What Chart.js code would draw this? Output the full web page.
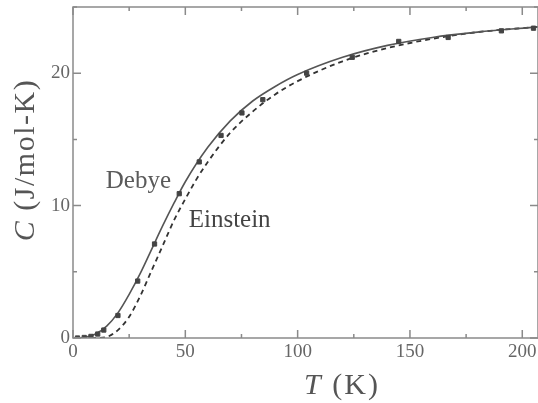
<!DOCTYPE html>
<html><head><meta charset="utf-8">
<script src="https://cdn.jsdelivr.net/npm/chart.js@4/dist/chart.umd.min.js"></script>
<style>html,body{margin:0;padding:0;background:#fff;overflow:hidden}canvas{display:block}</style>
</head><body><canvas id="c" width="538" height="403" style="width:538px;height:403px"></canvas>
<script>
const dataT = [2, 5, 8, 11, 13.7, 20, 28.8, 36.3, 47.3, 56.2, 65.9, 75.2, 84.5, 104, 124.3, 145, 167, 190.7, 205];
const dataC = [0.0, 0.04, 0.12, 0.3, 0.6, 1.7, 4.3, 7.1, 10.9, 13.3, 15.3, 17.0, 18.0, 20.0, 21.2, 22.4, 22.7, 23.2, 23.4];
const debyeT = [0, 5, 10, 15, 20, 25, 30, 35, 40, 45, 50, 60, 70, 80, 90, 100, 120, 140, 160, 180, 207];
const debyeC = [0, 0.04, 0.3, 0.9, 1.9, 3.3, 4.9, 6.7, 8.5, 10.2, 11.8, 14.4, 16.4, 17.9, 19.0, 19.9, 21.2, 22.1, 22.7, 23.1, 23.5];
const einT = [0, 10, 15, 20, 25, 30, 35, 40, 45, 50, 55, 60, 70, 80, 90, 100, 120, 140, 160, 180, 207];
const einC = [0, 0, 0.08, 0.6, 1.6, 3.2, 5.1, 7.0, 8.9, 10.5, 12.0, 13.3, 15.5, 17.1, 18.4, 19.4, 20.9, 21.9, 22.6, 23.1, 23.5];
const xMajor = [0, 50, 100, 150, 200];
const xMinor = [25, 75, 125, 175];
const yMajor = [0, 10, 20];
const yMinor = [5, 15, 25];

const pts = (xs, ys) => xs.map((x, i) => ({x, y: ys[i]}));
const AX = '#8a8a8a';
const SERIF = '"Liberation Serif", serif';
const framePlugin = {
  id: 'frame',
  afterDatasetsDraw(chart) {
    const {ctx, chartArea: a, scales: {x, y}} = chart;
    ctx.save();
    ctx.strokeStyle = AX; ctx.lineWidth = 1.5;
    ctx.strokeRect(a.left, a.top, a.right - a.left, a.bottom - a.top);
    ctx.beginPath();
    const tx = (v, L) => { const p = x.getPixelForValue(v); ctx.moveTo(p, a.bottom); ctx.lineTo(p, a.bottom - L); ctx.moveTo(p, a.top); ctx.lineTo(p, a.top + L); };
    const ty = (v, L) => { const p = y.getPixelForValue(v); ctx.moveTo(a.left, p); ctx.lineTo(a.left + L, p); ctx.moveTo(a.right, p); ctx.lineTo(a.right - L, p); };
    xMajor.forEach(v => tx(v, 8)); xMinor.forEach(v => tx(v, 4));
    yMajor.forEach(v => ty(v, 8)); yMinor.forEach(v => ty(v, 4));
    ctx.stroke();
    // curve labels
    ctx.font = '25px ' + SERIF;
    ctx.textBaseline = 'alphabetic';
    ctx.textAlign = 'left';
    ctx.fillStyle = '#5a5a5a';
    ctx.fillText('Debye', x.getPixelForValue(14.6), y.getPixelForValue(11.3));
    ctx.fillStyle = '#444';
    ctx.fillText('Einstein', x.getPixelForValue(51.5), y.getPixelForValue(8.35));
    // axis titles
    ctx.fillStyle = '#555';
    const drawParts = (parts, cx, cy, sp) => {
      ctx.letterSpacing = sp + 'px';
      let w = 0;
      parts.forEach(p => { ctx.font = p[1]; w += ctx.measureText(p[0]).width; });
      let sx = cx - w / 2;
      parts.forEach(p => { ctx.font = p[1]; ctx.fillText(p[0], sx, cy); sx += ctx.measureText(p[0]).width; });
      ctx.letterSpacing = '0px';
    };
    ctx.textBaseline = 'middle';
    drawParts([['T', 'italic 30px ' + SERIF], [' (K)', '30px ' + SERIF]], 342, 386, 2);
    ctx.save();
    ctx.translate(26, 160);
    ctx.rotate(-Math.PI / 2);
    drawParts([['C', 'italic 30px ' + SERIF], [' (J/mol-K)', '30px ' + SERIF]], 0, 0, 1.5);
    ctx.restore();
    ctx.restore();
  }
};

new Chart(document.getElementById('c'), {
  type: 'scatter',
  data: {
    datasets: [
      {label: 'data', data: pts(dataT, dataC), pointStyle: 'rect', pointRadius: 3, pointHoverRadius: 3, backgroundColor: '#444', borderColor: '#444', showLine: false, order: 0},
      {label: 'Debye', data: pts(debyeT, debyeC), showLine: true, borderColor: '#555', borderWidth: 1.6, pointRadius: 0, pointHoverRadius: 0, cubicInterpolationMode: 'monotone'},
      {label: 'Einstein', data: pts(einT, einC), showLine: true, borderColor: '#333', borderWidth: 1.8, borderDash: [5, 4], pointRadius: 0, pointHoverRadius: 0, cubicInterpolationMode: 'monotone'}
    ]
  },
  options: {
    responsive: false, animation: false,
    layout: {autoPadding: false, padding: {top: 7, right: 0, left: 0, bottom: 0}},
    plugins: {legend: {display: false}, tooltip: {enabled: false}},
    scales: {
      x: {type: 'linear', min: 0, max: 207,
        afterFit: s => { s.height = 65; s.paddingRight = 0; s.paddingLeft = 0; },
        afterBuildTicks: s => { s.ticks = xMajor.map(v => ({value: v})); },
        grid: {display: false, drawTicks: false}, border: {display: false},
        ticks: {color: '#666', font: {family: SERIF, size: 19}, padding: 3, maxRotation: 0}
      },
      y: {type: 'linear', min: 0, max: 25,
        afterFit: s => { s.width = 73; s.paddingTop = 0; s.paddingBottom = 0; },
        afterBuildTicks: s => { s.ticks = yMajor.map(v => ({value: v})); },
        grid: {display: false, drawTicks: false}, border: {display: false},
        ticks: {color: '#666', font: {family: SERIF, size: 19}, padding: 3}
      }
    }
  },
  plugins: [framePlugin]
});
</script></body></html>
